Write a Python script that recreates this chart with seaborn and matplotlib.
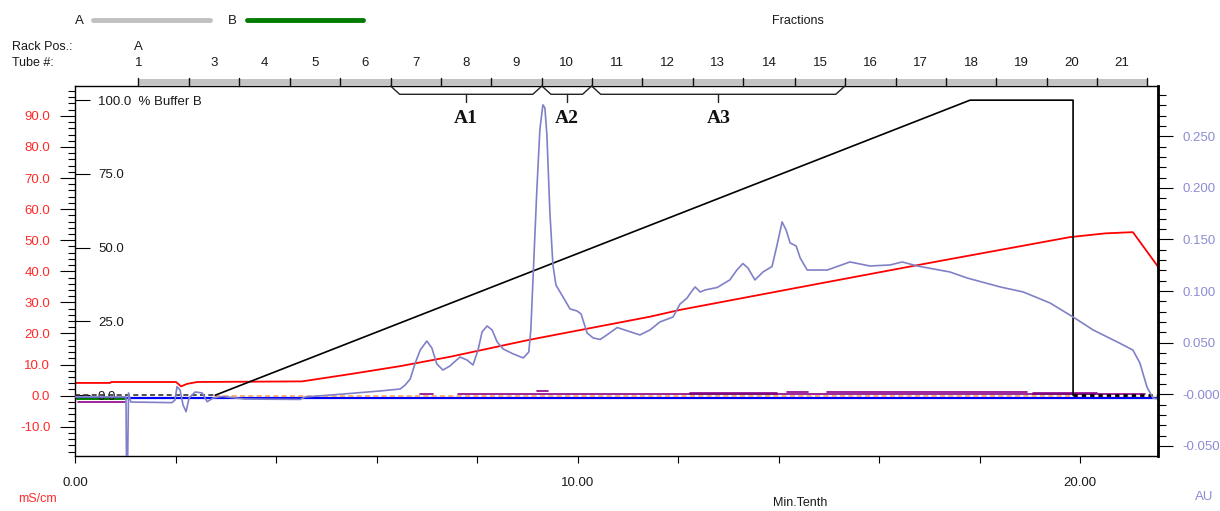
import matplotlib
matplotlib.use("Agg")
import matplotlib.pyplot as plt
from matplotlib import font_manager
from matplotlib.patches import Rectangle
from matplotlib.lines import Line2D
from matplotlib.ticker import MultipleLocator, FixedLocator, FuncFormatter
import seaborn as sns

# ---------------- data ----------------
# UV absorbance trace (AU) vs time (min)
uv_min = [0.00, 1.015, 1.025, 1.045, 1.065, 1.11, 1.93, 1.99, 2.03, 2.09, 2.15, 2.21, 2.27, 2.39,
          2.53, 2.63, 2.75, 2.93, 3.38, 4.48, 4.58, 5.27, 6.07, 6.47, 6.57, 6.67, 6.77, 6.87,
          7.00, 7.10, 7.20, 7.32, 7.46, 7.66, 7.80, 7.92, 8.02, 8.10, 8.20, 8.30, 8.40, 8.52,
          8.72, 8.92, 9.03, 9.07, 9.13, 9.19, 9.25, 9.31, 9.35, 9.39, 9.45, 9.51, 9.57, 9.71,
          9.85, 9.99, 10.07, 10.19, 10.31, 10.45, 10.61, 10.79, 11.00, 11.24, 11.44, 11.64,
          11.90, 12.04, 12.18, 12.26, 12.34, 12.44, 12.54, 12.78, 13.03, 13.17, 13.29, 13.39,
          13.53, 13.69, 13.87, 13.97, 14.07, 14.15, 14.23, 14.35, 14.43, 14.57, 14.97, 15.42,
          15.82, 16.22, 16.46, 16.76, 17.41, 17.75, 18.41, 18.87, 19.40, 19.86, 20.26, 20.74,
          21.05, 21.19, 21.33, 21.45, 21.55]
uv_au = [-0.0026, -0.0026, -0.075, -0.075, 0.0013, -0.0075, -0.0081, -0.0055, 0.0074, 0.0042,
         -0.0104, -0.0169, -0.0036, 0.0022, 0.0013, -0.0072, -0.0036, -0.0021, -0.0046, -0.0050,
         -0.0026, 0.0, 0.0032, 0.0051, 0.0090, 0.0148, 0.0303, 0.0429, 0.0516, 0.0449, 0.0294,
         0.0235, 0.0274, 0.0361, 0.0332, 0.0284, 0.0429, 0.0604, 0.0662, 0.0623, 0.0507, 0.0439,
         0.0391, 0.0352, 0.0410, 0.0623, 0.1302, 0.1981, 0.2562, 0.2804, 0.2775, 0.2513, 0.1757,
         0.1253, 0.1059, 0.0943, 0.0827, 0.0807, 0.0778, 0.0594, 0.0546, 0.0531, 0.0584, 0.0647,
         0.0613, 0.0575, 0.0623, 0.0701, 0.0749, 0.0875, 0.0933, 0.0991, 0.1040, 0.0991, 0.1011,
         0.1035, 0.1108, 0.1204, 0.1267, 0.1224, 0.1108, 0.1185, 0.1238, 0.1447, 0.1670, 0.1592,
         0.1466, 0.1437, 0.1321, 0.1204, 0.1204, 0.1282, 0.1243, 0.1253, 0.1282, 0.1243, 0.1185,
         0.1127, 0.1040, 0.0991, 0.0885, 0.0749, 0.0623, 0.0507, 0.0429, 0.0303, 0.0071, -0.0036,
         -0.0046]

# Conductivity (mS/cm)
cond_min = [0.00, 0.70, 0.72, 2.01, 2.11, 2.23, 2.43, 4.52, 5.50, 6.47, 7.46, 9.05, 10.05,
            11.44, 12.04, 14.43, 17.00, 19.80, 20.50, 21.05, 21.55]
cond_ms = [4.1, 4.1, 4.4, 4.4, 3.0, 3.8, 4.4, 4.6, 7.0, 9.5, 12.5, 18.0, 21.1, 25.4, 27.6,
           34.9, 42.7, 51.0, 52.2, 52.6, 41.5]

# % Buffer B gradient
grad_min = [2.79, 17.81, 19.86, 19.86]
grad_pct = [0.0, 100.0, 100.0, 0.0]
pre_grad_min = [0.00, 2.79]
post_grad_min = [19.86, 21.55]

# baseline traces (mS/cm scale)
blue_min = [0.00, 21.55]
blue_ms = [-0.9, -0.9]
orange_min = [2.79, 21.55]
purple_start = [0.06, 6.87, 7.62, 9.19, 12.24, 14.17, 14.97, 19.06]
purple_end = [1.00, 7.12, 21.30, 9.41, 13.97, 14.59, 18.95, 20.34]
purple_lvl = [-2.1, 0.45, 0.45, 1.5, 1.0, 1.3, 1.2, 0.9]
green_start = [0.03, 12.24, 19.06]
green_end = [1.00, 13.97, 20.30]
green_lvl = [-1.2, 0.7, 0.7]

# fractions
frac_bounds = [1.26, 2.27, 3.26, 4.28, 5.27, 6.28, 7.28, 8.28, 9.29, 10.28, 11.29, 12.29,
               13.29, 14.33, 15.32, 16.33, 17.33, 18.33, 19.34, 20.33, 21.34]
tube_numbers = list(range(3, 22))
pool_names = ["A1", "A2", "A3"]
pool_first_bound = [5, 8, 9]   # index into frac_bounds
pool_last_bound = [8, 9, 14]

red_ticks = [-10, 0, 10, 20, 30, 40, 50, 60, 70, 80, 90]
pctb_ticks = [0, 25, 50, 75, 100]
pctb_labels = ["0.0", "25.0", "50.0", "75.0", "100.0  % Buffer B"]

# ---------------- style ----------------
sns.set_theme(style="white")
names = {f.name for f in font_manager.fontManager.ttflist}
narrow = "Liberation Sans Narrow" in names
base_font = "Liberation Sans Narrow" if narrow else "Liberation Sans"
fs = 11 if narrow else 9.5
plt.rcParams["font.family"] = [base_font, "DejaVu Sans"]

RED = "#ff2a2a"
UVC = "#8080c8"
AUC = "#8c8cd4"
DARK = "#1a1a1a"

fig = plt.figure(figsize=(12.2, 5.11), dpi=100)
fig.patch.set_facecolor("white")
ax = fig.add_axes([75 / 1220, 1 - 456 / 511, (1158 - 75) / 1220, (456 - 86) / 511])
axB = ax.twinx()
axU = ax.twinx()

# ---------------- curves ----------------
common = dict(estimator=None, sort=False, legend=False)
# baseline traces
sns.lineplot(x=blue_min, y=blue_ms, ax=ax, color="#0000ff", lw=1.6, **common)
sns.lineplot(x=orange_min, y=[0, 0], ax=ax, color="#f4a460", lw=1.2,
             linestyle=(0, (3, 2)), **common)
for s, e, v in zip(green_start, green_end, green_lvl):
    sns.lineplot(x=[s, e], y=[v, v], ax=ax, color="#008000", lw=1.4, **common)
for s, e, v in zip(purple_start, purple_end, purple_lvl):
    sns.lineplot(x=[s, e], y=[v, v], ax=ax, color="#8b008b", lw=1.2, **common)
# conductivity
sns.lineplot(x=cond_min, y=cond_ms, ax=ax, color="#ff0000", lw=1.3, **common)

# gradient
sns.lineplot(x=pre_grad_min, y=[0, 0], ax=axB, color="#333333", lw=1.2,
             linestyle=(0, (3, 2)), **common)
sns.lineplot(x=grad_min, y=grad_pct, ax=axB, color="black", lw=1.2, **common)
sns.lineplot(x=post_grad_min, y=[0, 0], ax=axB, color="black", lw=2.0,
             linestyle=(0, (1.5, 1.5)), **common)

# UV
sns.lineplot(x=uv_min, y=uv_au, ax=axU, color=UVC, lw=1.2, **common)

# ---------------- axes ----------------
ax.set_xlim(0, 21.55)
ax.set_ylim(-19.4, 99.6)
axB.set_ylim(-20.6, 104.8)
axU.set_ylim(-0.0598, 0.2987)
for a in (ax, axB, axU):
    a.set_xlabel("")
    a.set_ylabel("")

for sp in ax.spines.values():
    sp.set_color("black")
    sp.set_linewidth(1.0)
for a in (axB, axU):
    for sp in a.spines.values():
        sp.set_visible(False)
axU.spines["right"].set_visible(True)
axU.spines["right"].set_color("black")
axU.spines["right"].set_linewidth(2.0)

# x axis
ax.xaxis.set_major_locator(MultipleLocator(2))
ax.xaxis.set_major_formatter(FuncFormatter(
    lambda v, p: f"{v:.2f}" if abs(v / 10 - round(v / 10)) < 1e-6 else ""))
ax.tick_params(axis="x", which="major", bottom=True, direction="out", length=5,
               width=0.8, color="black", pad=10, labelsize=fs, labelcolor=DARK)

# red conductivity axis
ax.yaxis.set_major_locator(FixedLocator(red_ticks))
ax.yaxis.set_minor_locator(MultipleLocator(2))
ax.yaxis.set_major_formatter(FuncFormatter(lambda v, p: f"{v:.1f}"))
ax.tick_params(axis="y", which="major", left=True, direction="out", length=10.8,
               width=0.8, color="black", pad=7, labelsize=fs, labelcolor=RED)
ax.tick_params(axis="y", which="minor", left=True, direction="out", length=5,
               width=0.8, color="black")

# %B axis (inside, left)
axB.yaxis.tick_left()
axB.yaxis.set_major_locator(FixedLocator(pctb_ticks))
axB.set_yticklabels(pctb_labels, ha="left")
axB.tick_params(axis="y", which="major", left=True, right=False, direction="in",
                length=10.8, width=0.8, color="black", pad=-16.5,
                labelsize=fs, labelcolor=DARK)

# AU axis (right)
def au_fmt(v, p):
    if abs(v) < 1e-9:
        return "-0.000"
    return f"{v:.3f}"
axU.yaxis.set_major_locator(MultipleLocator(0.05))
axU.yaxis.set_minor_locator(MultipleLocator(0.01))
axU.yaxis.set_major_formatter(FuncFormatter(au_fmt))
axU.tick_params(axis="y", which="major", right=True, direction="out", length=10.8,
                width=0.8, color="black", pad=7, labelsize=fs, labelcolor=AUC)
axU.tick_params(axis="y", which="minor", right=True, direction="out", length=5.5,
                width=0.8, color="black")

# ---------------- fraction header ----------------
xt = ax.get_xaxis_transform()
ax.add_patch(Rectangle((frac_bounds[0], 1.0), frac_bounds[-1] - frac_bounds[0], 0.019,
                       transform=xt, facecolor="#c4c4c4", edgecolor="none",
                       clip_on=False, zorder=3))
for b in frac_bounds:
    ax.plot([b, b], [1.0, 1.0216], transform=xt, color="#111111", lw=1.0,
            clip_on=False, zorder=4)
ax.text(frac_bounds[0], 1.062, "1", transform=xt, ha="center", va="center",
        fontsize=fs, color=DARK, clip_on=False)
ax.text(frac_bounds[0], 1.105, "A", transform=xt, ha="center", va="center",
        fontsize=fs, color=DARK, clip_on=False)
for k in tube_numbers:
    c = (frac_bounds[k - 2] + frac_bounds[k - 1]) / 2
    ax.text(c, 1.062, str(k), transform=xt, ha="center", va="center",
            fontsize=fs, color=DARK, clip_on=False)

# pool brackets
for name, i0, i1 in zip(pool_names, pool_first_bound, pool_last_bound):
    s, e = frac_bounds[i0], frac_bounds[i1]
    c = (s + e) / 2
    ax.plot([s, s + 0.18, e - 0.18, e], [1.0, 0.9776, 0.9776, 1.0], transform=xt,
            color="#222222", lw=1.0, clip_on=False, zorder=4)
    ax.plot([c, c], [0.9776, 0.957], transform=xt, color="#222222", lw=1.0, zorder=4)
    ax.text(c, 0.9135, name, transform=xt, ha="center", va="center",
            fontsize=14, fontweight="bold", family="Liberation Serif", color="#111111")

# ---------------- header / labels ----------------
fig.text(79 / 1220, 1 - 21 / 511, "A", ha="center", va="center", fontsize=fs, color=DARK)
fig.add_artist(Line2D([93 / 1220, 210 / 1220], [1 - 20 / 511, 1 - 20 / 511],
                      transform=fig.transFigure, color="#c0c0c0", lw=3.5))
fig.text(232 / 1220, 1 - 21 / 511, "B", ha="center", va="center", fontsize=fs, color=DARK)
fig.add_artist(Line2D([247 / 1220, 363 / 1220], [1 - 20 / 511, 1 - 20 / 511],
                      transform=fig.transFigure, color="#007a00", lw=3.5))
fig.text(798 / 1220, 1 - 21 / 511, "Fractions", ha="center", va="center",
         fontsize=fs - 0.5, color=DARK)
fig.text(12 / 1220, 1 - 47 / 511, "Rack Pos.:", ha="left", va="center",
         fontsize=fs - 0.5, color=DARK)
fig.text(12 / 1220, 1 - 63 / 511, "Tube #:", ha="left", va="center",
         fontsize=fs - 0.5, color=DARK)
fig.text(800 / 1220, 1 - 503 / 511, "Min.Tenth", ha="center", va="center",
         fontsize=fs - 0.5, color=DARK)
fig.text(37 / 1220, 1 - 499 / 511, "mS/cm", ha="center", va="center",
         fontsize=fs - 0.5, color=RED)
fig.text(1204 / 1220, 1 - 497 / 511, "AU", ha="center", va="center",
         fontsize=fs, color=AUC)

fig.savefig("out.png", dpi=100, facecolor="white")
